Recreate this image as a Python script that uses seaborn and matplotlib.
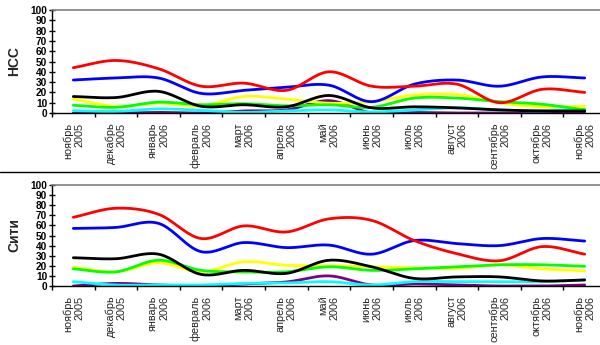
import numpy as np
import pandas as pd
import matplotlib
matplotlib.use("Agg")
import matplotlib.pyplot as plt
import seaborn as sns
from matplotlib.lines import Line2D

sns.set_theme(style="white")
plt.rcParams['font.family'] = ['Liberation Sans', 'DejaVu Sans']

months = ["ноябрь\n2005", "декабрь\n2005", "январь\n2006", "февраль\n2006", "март\n2006",
          "апрель\n2006", "май\n2006", "июнь\n2006", "июль\n2006", "август\n2006",
          "сентябрь\n2006", "октябрь\n2006", "ноябрь\n2006"]

# Panel 1: НСС
nss_red    = [44, 51, 43, 26, 29, 22, 40, 26, 26, 28, 10, 23, 20]
nss_blue   = [32, 34, 34, 19, 22, 25, 27, 11, 28, 32, 26, 35, 34]
nss_black  = [16, 15, 21, 6.5, 8, 6, 17, 5, 6, 5, 3, 2, 2]
nss_yellow = [13.5, 6.5, 9.5, 7, 16, 13.5, 9.5, 11, 17.5, 18, 10, 6, 6.5]
nss_green  = [7.5, 5.5, 10.5, 8, 9, 7, 8, 5.5, 14.5, 14.5, 11, 8.5, 3]
nss_cyan   = [2.3, 1.6, 4, 2.6, 0.6, 2, 3, 1, 3, 5, 3, 2, 4]
nss_purple = [0, 0, 0.6, 0, 2, 3, 12, 0, 0.5, 0, 0, 0, 1]

# Panel 2: Сити
city_red    = [68, 77, 71, 47, 59.5, 53.5, 66.5, 65, 45, 32, 25, 39, 31.5]
city_blue   = [57, 58, 62, 34, 43, 38, 40.5, 31.5, 45, 42, 40, 47, 44.5]
city_black  = [28, 27, 31.5, 11.5, 15.5, 12.5, 25.5, 19, 7.5, 9, 9, 5, 6]
city_yellow = [18.5, 14, 23, 14, 24, 20.5, 20, 19, 18, 17.5, 21, 17, 15]
city_green  = [17, 14, 25.5, 15.5, 14, 14, 19, 15.5, 17, 19, 21, 21, 19.5]
city_cyan   = [4.3, 1, 1, 1, 2.6, 3, 4.3, 1, 4.3, 4.3, 4.3, 4.3, 6]
city_purple = [0, 2.6, 1, 0, 2, 4, 10, 1, 2, 1, 0, 0, 1]

colors = {"purple": "#800080", "cyan": "#00FFFF", "yellow": "#FFFF00", "green": "#00FF00",
          "black": "#000000", "blue": "#0000FF", "red": "#FF0000"}

panels = [
    ("НСС", {"purple": nss_purple, "cyan": nss_cyan, "yellow": nss_yellow, "green": nss_green,
             "black": nss_black, "blue": nss_blue, "red": nss_red}),
    ("Сити", {"purple": city_purple, "cyan": city_cyan, "yellow": city_yellow, "green": city_green,
              "black": city_black, "blue": city_blue, "red": city_red}),
]


def smooth(x, y, n=20):
    # Catmull-Rom curve through the data points (drawing style like Excel smoothed lines)
    x = np.asarray(x, float); y = np.asarray(y, float)
    P = np.column_stack([x, y])
    P = np.vstack([P[0] - (P[1] - P[0]), P, P[-1] + (P[-1] - P[-2])])
    out = []
    for i in range(1, len(P) - 2):
        p0, p1, p2, p3 = P[i - 1], P[i], P[i + 1], P[i + 2]
        t = np.linspace(0, 1, n, endpoint=False)[:, None]
        seg = 0.5 * ((2 * p1) + (-p0 + p2) * t + (2 * p0 - 5 * p1 + 4 * p2 - p3) * t ** 2
                     + (-p0 + 3 * p1 - 3 * p2 + p3) * t ** 3)
        out.append(seg)
    out.append(P[-2][None, :])
    out = np.vstack(out)
    return out[:, 0], np.clip(out[:, 1], 0, None)


W, H = 600, 345
fig = plt.figure(figsize=(W / 100, H / 100), dpi=100)
left = 52 / W
width = 554 / W
axes_pos = [(113, 10), (286, 185)]

xs = np.arange(len(months))
for (title, series), (ybot, ytop) in zip(panels, axes_pos):
    ax = fig.add_axes([left, (H - ybot) / H, width, (ybot - ytop) / H])
    for name, vals in series.items():
        sx, sy = smooth(xs, vals)
        df = pd.DataFrame({"x": sx, "y": sy})
        sns.lineplot(data=df, x="x", y="y", ax=ax, color=colors[name], lw=2.0,
                     sort=False, estimator=None)
    ax.set_xlim(-0.5, len(months) - 0.5)
    ax.set_ylim(0, 100)
    ax.set_xlabel("")
    ax.set_ylabel("")
    ax.set_yticks(np.arange(0, 101, 10))
    ax.set_yticklabels([str(v) for v in range(0, 101, 10)], fontsize=7.3, fontweight="bold")
    ax.tick_params(axis="y", direction="inout", length=5, width=1, pad=1, colors="black", left=True)
    ax.set_xticks(xs)
    ax.set_xticklabels(months, rotation=90, fontsize=7.8, va="top", ha="center",
                       multialignment="right", linespacing=1.15)
    ax.tick_params(axis="x", which="major", length=0, pad=7)
    ax.set_xticks(np.arange(-0.5, len(months) - 0.4, 1), minor=True)
    ax.tick_params(axis="x", which="minor", direction="out", length=3, width=1, bottom=True, color="black")
    for s in ["left", "bottom"]:
        ax.spines[s].set_color("black")
        ax.spines[s].set_linewidth(1)
    ax.spines["top"].set_color("#808080")
    ax.spines["top"].set_linewidth(1.2)
    ax.spines["right"].set_visible(False)
    ax.grid(False)
    ax.text(-0.068, 0.5, title, transform=ax.transAxes, rotation=90, ha="center", va="center",
            fontsize=10, fontweight="bold")

fig.add_artist(Line2D([0, 1], [(H - 172) / H, (H - 172) / H], color="black", lw=1,
                      transform=fig.transFigure))

fig.savefig("out.png", dpi=100)
